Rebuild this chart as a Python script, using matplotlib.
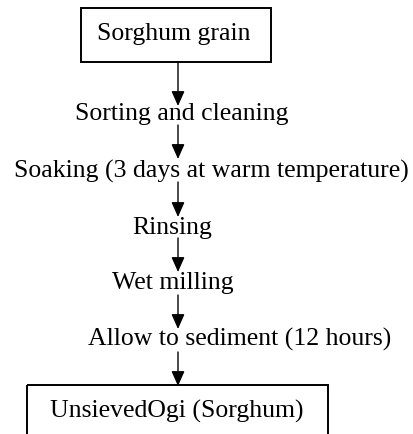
import matplotlib
matplotlib.use("Agg")
import matplotlib.pyplot as plt
from matplotlib.patches import Rectangle

# Data: flowchart content
start_label = "Sorghum grain"
steps = [
    "Sorting and cleaning",
    "Soaking (3 days at warm temperature)",
    "Rinsing",
    "Wet milling",
    "Allow to sediment (12 hours)",
]
end_label = "UnsievedOgi (Sorghum)"

# Layout (pixel coordinates, y downwards)
W, H = 414, 434
arrow_x = 178
top_box = (81, 8, 271, 62)
bottom_box = (27, 385, 328, 440)
step_y = [114, 171, 228, 283, 339]
step_x = [181.5, 211, 172.5, 173, 240]
arrow_segments = [(62, 106), (125, 159), (182, 217), (238, 272), (295, 329), (352, 386)]
fs = 18.5

fig = plt.figure(figsize=(W / 100, H / 100), dpi=100)
ax = fig.add_axes([0, 0, 1, 1])
ax.set_xlim(0, W)
ax.set_ylim(H, 0)
ax.axis("off")

font = dict(family=["Liberation Serif", "DejaVu Serif"], fontsize=fs, color="black")

x0, y0, x1, y1 = top_box
ax.add_patch(Rectangle((x0, y0), x1 - x0, y1 - y0, fill=False, lw=1.4, ec="black"))
ax.text(173.5, 34, start_label, ha="center", va="center", **font)

x0, y0, x1, y1 = bottom_box
ax.add_patch(Rectangle((x0, y0), x1 - x0, y1 - y0, fill=False, lw=1.4, ec="black", clip_on=False))
ax.text(176.5, 411, end_label, ha="center", va="center", **font)

for lab, x, y in zip(steps, step_x, step_y):
    ax.text(x, y, lab, ha="center", va="center", **font)

for ys, ye in arrow_segments:
    ax.annotate("", xy=(arrow_x, ye), xytext=(arrow_x, ys),
                arrowprops=dict(arrowstyle="-|>,head_length=0.9,head_width=0.4",
                                lw=1.0, color="black", shrinkA=0, shrinkB=0))

fig.savefig("out.png", dpi=100)
